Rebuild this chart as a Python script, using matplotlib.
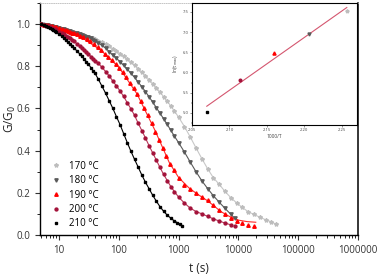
import matplotlib
matplotlib.use("Agg")
import matplotlib.pyplot as plt
import numpy as np
from matplotlib.ticker import LogLocator, MultipleLocator, NullFormatter, FixedLocator

plt.rcParams['font.family'] = ['Open Sans', 'DejaVu Sans']

# ---- data ----
labels = ['170 °C', '180 °C', '190 °C', '200 °C', '210 °C']

t_210 = [5, 5.5, 6, 6.5, 7, 7.5, 8, 8.5, 9, 10, 11, 12, 13, 14, 15, 16.5, 18, 20, 22, 24, 26, 28.5,
         31, 34, 37, 40, 45, 52, 60, 69, 79, 91, 105, 120, 138, 159, 183, 210, 242, 278, 320, 368,
         423, 487, 560, 644, 740, 851, 950, 1050, 1140]
g_210 = [1.000, 0.995, 0.990, 0.986, 0.981, 0.976, 0.972, 0.967, 0.962, 0.952, 0.943, 0.934, 0.925,
         0.916, 0.908, 0.896, 0.885, 0.872, 0.859, 0.847, 0.836, 0.822, 0.809, 0.794, 0.779, 0.766,
         0.740, 0.706, 0.672, 0.636, 0.601, 0.561, 0.522, 0.481, 0.438, 0.397, 0.358, 0.322, 0.284,
         0.250, 0.219, 0.188, 0.160, 0.134, 0.112, 0.094, 0.079, 0.066, 0.058, 0.052, 0.044]

t_200 = [5, 5.5, 6, 6.5, 7, 7.5, 8, 8.5, 9, 10, 11, 12, 13, 14, 15, 16.5, 18, 20, 22, 24, 26, 28.5,
         31, 34, 37, 40, 45, 52, 60, 69, 79, 91, 105, 120, 138, 159, 183, 210, 242, 278, 320, 368,
         423, 487, 560, 644, 740, 851, 1000, 1250, 1560, 1950, 2440, 3050, 3810, 4770, 5960, 7450, 8600]
g_200 = [1.000, 0.997, 0.993, 0.990, 0.986, 0.982, 0.978, 0.975, 0.971, 0.963, 0.957, 0.951, 0.945,
         0.940, 0.934, 0.926, 0.919, 0.905, 0.895, 0.885, 0.876, 0.866, 0.857, 0.846, 0.836, 0.827,
         0.815, 0.795, 0.775, 0.754, 0.730, 0.707, 0.682, 0.657, 0.627, 0.598, 0.567, 0.530, 0.495,
         0.460, 0.423, 0.389, 0.355, 0.320, 0.287, 0.258, 0.229, 0.205, 0.179, 0.151, 0.127, 0.111,
         0.100, 0.088, 0.076, 0.066, 0.056, 0.048, 0.041]

t_190 = [5, 5.5, 6, 6.5, 7, 7.5, 8, 8.5, 9, 10, 11, 12, 13, 14, 15, 16.5, 18, 20, 22, 25, 29, 33,
         38, 44, 50, 58, 66, 76, 88, 101, 116, 133, 153, 176, 203, 233, 268, 308, 355, 408, 469,
         539, 620, 713, 820, 1000, 1250, 1560, 1950, 2440, 3050, 3810, 4770, 5960, 7450, 9310,
         11640, 14550, 18190]
g_190 = [1.000, 0.998, 0.996, 0.994, 0.992, 0.990, 0.988, 0.986, 0.984, 0.980, 0.977, 0.974, 0.970,
         0.967, 0.964, 0.960, 0.956, 0.951, 0.946, 0.938, 0.928, 0.918, 0.905, 0.890, 0.876, 0.860,
         0.846, 0.830, 0.812, 0.793, 0.771, 0.748, 0.722, 0.695, 0.667, 0.636, 0.604, 0.568, 0.530,
         0.490, 0.450, 0.410, 0.372, 0.338, 0.308, 0.272, 0.239, 0.216, 0.197, 0.182, 0.164, 0.142,
         0.119, 0.098, 0.080, 0.067, 0.055, 0.045, 0.041]
# fitted curve for 190 °C levels off above the last points
tfit_190 = [5, 10, 20, 50, 100, 200, 400, 700, 1000, 1500, 2000, 3000, 4000, 5000, 6500, 8000,
            10000, 14000, 19500]
gfit_190 = [1.000, 0.980, 0.951, 0.876, 0.795, 0.670, 0.497, 0.342, 0.272, 0.222, 0.196, 0.163,
            0.135, 0.112, 0.093, 0.080, 0.070, 0.063, 0.060]

t_180 = [5, 5.5, 6, 6.5, 7, 7.5, 8, 8.5, 9, 10, 11, 12, 13, 14, 15, 16.5, 18, 20, 22, 24, 26, 28.5,
         31, 34, 37, 40, 45, 52, 60, 69, 79, 91, 105, 120, 138, 159, 183, 210, 242, 278, 320, 368,
         423, 487, 560, 644, 740, 851, 1000, 1250, 1560, 1950, 2440, 3050, 3810, 4770, 5960, 7450, 8600]
g_180 = [1.000, 0.998, 0.996, 0.994, 0.992, 0.990, 0.988, 0.986, 0.984, 0.981, 0.978, 0.975, 0.972,
         0.969, 0.966, 0.963, 0.960, 0.956, 0.952, 0.949, 0.945, 0.941, 0.937, 0.932, 0.926, 0.921,
         0.912, 0.899, 0.886, 0.870, 0.853, 0.838, 0.821, 0.804, 0.786, 0.767, 0.747, 0.725, 0.703,
         0.680, 0.655, 0.630, 0.604, 0.577, 0.551, 0.524, 0.496, 0.468, 0.437, 0.393, 0.346, 0.300,
         0.257, 0.220, 0.186, 0.155, 0.126, 0.098, 0.080]

t_170 = [5, 5.5, 6, 6.5, 7, 7.5, 8, 8.5, 9, 10, 11, 12, 13, 14, 15, 16.5, 18, 20, 22, 24, 26, 28.5,
         31, 34, 37, 40, 45, 52, 60, 69, 79, 91, 105, 120, 138, 159, 183, 210, 242, 278, 320, 368,
         423, 487, 560, 644, 740, 851, 1000, 1250, 1560, 1950, 2440, 3050, 3810, 4770, 5960, 7450,
         9310, 11640, 14550, 18190, 22740, 28420, 35530, 43000]
g_170 = [1.000, 0.999, 0.997, 0.995, 0.993, 0.991, 0.989, 0.987, 0.985, 0.982, 0.979, 0.976, 0.973,
         0.970, 0.967, 0.964, 0.961, 0.957, 0.953, 0.950, 0.947, 0.943, 0.940, 0.936, 0.932, 0.928,
         0.922, 0.913, 0.904, 0.894, 0.884, 0.872, 0.860, 0.848, 0.834, 0.820, 0.805, 0.789, 0.772,
         0.755, 0.737, 0.718, 0.698, 0.677, 0.656, 0.634, 0.611, 0.587, 0.558, 0.514, 0.465, 0.413,
         0.362, 0.314, 0.271, 0.240, 0.206, 0.177, 0.152, 0.130, 0.110, 0.097, 0.084, 0.072, 0.062,
         0.050]

# inset: relaxation time vs inverse temperature
inv_T = [2.2566, 2.2068, 2.1591, 2.1135, 2.0697]
ln_tau = [7.52, 6.96, 6.48, 5.81, 5.03]

colors = ['#bdbdbd', '#5a5a5a', '#ff0000', '#a3123a', '#000000']
line_colors = ['#c8c8c8', '#5a5a5a', '#ff2a2a', '#b8385a', '#000000']
markers = ['*', 'v', '^', 'o', 's']
msizes = [3.0, 2.4, 2.5, 2.1, 1.8]

series_t = [t_170, t_180, t_190, t_200, t_210]
series_g = [g_170, g_180, g_190, g_200, g_210]
fit_t = [t_170, t_180, tfit_190, t_200[:-1], t_210[:-2]]
fit_g = [g_170, g_180, gfit_190, g_200[:-1], g_210[:-2]]

fig = plt.figure(figsize=(3.78, 2.77), dpi=100)
ax = fig.add_axes([0.106, 0.152, 0.841, 0.837])

for i in range(5):
    ax.plot(fit_t[i], fit_g[i], '-', color=line_colors[i], lw=0.8, zorder=2)
    ax.plot(series_t[i], series_g[i], ls='none', marker=markers[i], ms=msizes[i],
            color=colors[i], mec=colors[i], label=labels[i], zorder=3)

ax.set_xscale('log')
ax.set_xlim(4.8, 1e6)
ax.set_ylim(0, 1.1)
ax.xaxis.set_major_locator(FixedLocator([10, 100, 1000, 10000, 100000, 1000000]))
ax.set_xticklabels(['10', '100', '1000', '10000', '100000', '1000000'])
ax.xaxis.set_minor_locator(LogLocator(base=10, subs=np.arange(2, 10), numticks=20))
ax.xaxis.set_minor_formatter(NullFormatter())
ax.yaxis.set_major_locator(FixedLocator([0.0, 0.2, 0.4, 0.6, 0.8, 1.0]))
ax.yaxis.set_minor_locator(MultipleLocator(0.1))
ax.set_yticklabels(['0.0', '0.2', '0.4', '0.6', '0.8', '1.0'])
ax.tick_params(which='major', direction='out', length=3.5, width=0.8, labelsize=7, colors='#333333')
ax.tick_params(which='minor', direction='out', length=2, width=0.6)
ax.set_xlabel('t (s)', fontsize=8.5, color='#222222')
ax.xaxis.set_label_coords(0.5, -0.118)
ax.set_ylabel('G/G$_0$', fontsize=8.5, color='#222222')
ax.yaxis.set_label_coords(-0.07, 0.5)
ax.spines['top'].set_color('#bbbbbb')
ax.spines['top'].set_linestyle(':')
ax.spines['top'].set_linewidth(0.6)
ax.spines['right'].set_linewidth(1.1)
ax.spines['left'].set_linewidth(1.0)
ax.spines['bottom'].set_linewidth(1.0)

ax.legend(loc='upper left', bbox_to_anchor=(0.015, 0.345), frameon=False, fontsize=7,
          handlelength=1.0, handletextpad=0.9, labelspacing=0.35, markerscale=1.0,
          borderaxespad=0.2)

# ---- inset ----
ins = fig.add_axes([0.508, 0.549, 0.436, 0.44])
for i in range(5):
    ins.plot(inv_T[i], ln_tau[i], ls='none', marker=markers[i], ms=msizes[i] * 0.9,
             color=colors[i], mec=colors[i])
k, b = np.polyfit(inv_T, ln_tau, 1)
xx = np.array([min(inv_T), max(inv_T)])
ins.plot(xx, k * xx + b, '-', color='#d4566f', lw=0.8, zorder=1)
ins.set_xlim(2.05, 2.27)
ins.set_ylim(4.7, 7.72)
ins.xaxis.set_major_locator(FixedLocator([2.05, 2.10, 2.15, 2.20, 2.25]))
ins.set_xticklabels(['2.05', '2.10', '2.15', '2.20', '2.25'])
ins.xaxis.set_minor_locator(MultipleLocator(0.025))
ins.yaxis.set_major_locator(FixedLocator([5.0, 5.5, 6.0, 6.5, 7.0, 7.5]))
ins.set_yticklabels(['5.0', '5.5', '6.0', '6.5', '7.0', '7.5'])
ins.yaxis.set_minor_locator(MultipleLocator(0.25))
ins.tick_params(which='major', direction='out', length=1.5, width=0.4, labelsize=3, pad=1,
                colors='#444444')
ins.tick_params(which='minor', direction='out', length=0.8, width=0.3)
ins.set_xlabel('1000/T', fontsize=3.5, labelpad=1.5, color='#444444')
ins.set_ylabel('ln(τ$_{max}$)', fontsize=3.5, labelpad=2, color='#444444')
for s in ins.spines.values():
    s.set_linewidth(0.8)

fig.savefig('out.png', dpi=100)
